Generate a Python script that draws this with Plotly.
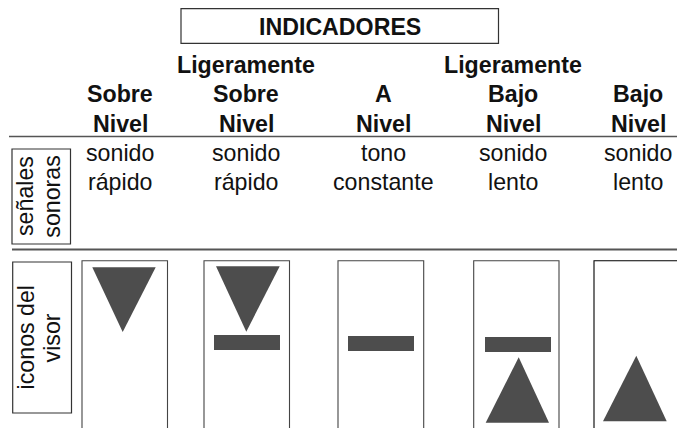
import plotly.graph_objects as go

FONT = "Liberation Sans"
TITLE = "INDICADORES"
HEADER_ROWS = [
    ["", "Ligeramente", "", "Ligeramente", ""],
    ["Sobre", "Sobre", "A", "Bajo", "Bajo"],
    ["Nivel", "Nivel", "Nivel", "Nivel", "Nivel"],
]
SOUND_ROWS = [
    ["sonido", "sonido", "tono", "sonido", "sonido"],
    ["rápido", "rápido", "constante", "lento", "lento"],
]
ROW_LABELS = [["señales", "sonoras"], ["iconos del", "visor"]]

COL_X = [120, 246, 383, 513, 638]
HEADER_Y = [65, 94, 124]
SOUND_Y = [152.5, 182.4]
LABEL_X = [[25, 51.7], [25.7, 51.7]]
LABEL_Y = [196, 337.7]

BOXES = [(181, 8.7, 498.5, 43.3), (12, 149, 70.5, 244), (12.7, 262, 71.5, 413)]
PANELS = [(82, 167.5), (204, 289.5), (338, 423.7), (473.7, 559), (594, 690)]
PANEL_TOP = 260.7
RULES = [(9, 136.5, 1.5), (12, 249.5, 2)]
BARS = [(214, 335, 280, 350), (348, 336, 414, 351), (485, 337, 551, 352)]
TRIANGLES = [
    ([92.3, 155.7, 122.7], [267.3, 267.3, 332]),
    ([216, 279.7, 246.3], [266.3, 266.3, 331.7]),
    ([485.7, 549, 518.7], [422.7, 422.7, 357.3]),
    ([603, 666.7, 636.3], [421.3, 421.3, 355.7]),
]

fig = go.Figure()
DARK = "#4d4d4d"
shapes = []
for x0, y0, x1, y1 in BOXES:
    shapes.append(dict(type="rect", x0=x0, y0=y0, x1=x1, y1=y1, line=dict(color="#333", width=1.2)))
for i, (x0, x1) in enumerate(PANELS):
    shapes.append(dict(type="rect", x0=x0, y0=PANEL_TOP, x1=x1, y1=460,
                       line=dict(color="#000" if i == 4 else "#444", width=1.1)))
for x0, y, w in RULES:
    shapes.append(dict(type="line", x0=x0, y0=y, x1=690, y1=y, line=dict(color="#555", width=w)))
for x0, y0, x1, y1 in BARS:
    shapes.append(dict(type="rect", x0=x0, y0=y0, x1=x1, y1=y1, fillcolor=DARK, line=dict(width=0)))

for tx, ty in TRIANGLES:
    fig.add_trace(go.Scatter(x=tx + tx[:1], y=ty + ty[:1], mode="lines", fill="toself",
                             fillcolor=DARK, line=dict(width=0), hoverinfo="skip", showlegend=False))

SIZE = 23.2
ann = [dict(x=339.7, y=27, text=f"<b>{TITLE}</b>")]
for row, y in zip(HEADER_ROWS, HEADER_Y):
    for t, x in zip(row, COL_X):
        if t:
            ann.append(dict(x=x, y=y, text=f"<b>{t}</b>"))
for row, y in zip(SOUND_ROWS, SOUND_Y):
    for t, x in zip(row, COL_X):
        ann.append(dict(x=x, y=y, text=t))
for labels, xs, y in zip(ROW_LABELS, LABEL_X, LABEL_Y):
    for t, x in zip(labels, xs):
        ann.append(dict(x=x, y=y, text=t, textangle=-90))
for a in ann:
    a.update(xref="x", yref="y", showarrow=False, xanchor="center", yanchor="middle",
             font=dict(family=FONT, size=SIZE, color="#111"))

fig.update_layout(
    width=677, height=428, margin=dict(l=0, r=0, t=0, b=0),
    paper_bgcolor="white", plot_bgcolor="white", showlegend=False,
    xaxis=dict(range=[0, 677], visible=False, fixedrange=True),
    yaxis=dict(range=[428, 0], visible=False, fixedrange=True),
    shapes=shapes, annotations=ann,
)
fig.write_html("out.html", config=dict(displayModeBar=False),
               post_script="document.body.style.margin='0';document.documentElement.style.overflow='hidden';")
